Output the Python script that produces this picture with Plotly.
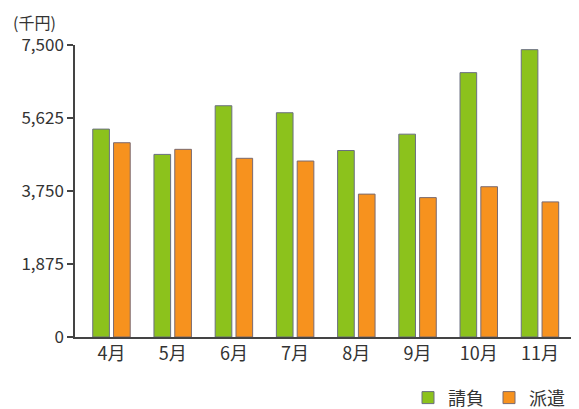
import plotly.graph_objects as go

months = ["4月", "5月", "6月", "7月", "8月", "9月", "10月", "11月"]
ukeoi = [5340, 4690, 5940, 5760, 4790, 5210, 6790, 7380]   # 請負
haken = [4990, 4820, 4590, 4520, 3670, 3580, 3860, 3470]   # 派遣
y_ticks = [0, 1875, 3750, 5625, 7500]
y_ticklabels = ["0", "1,875", "3,750", "5,625", "7,500"]

FONT = "Noto Sans CJK JP"
TXT = "#333333"
OFF = 8  # default page margin of the browser
W, H = 579 - OFF, 409 - OFF
L, T = 75 - OFF, 44.5 - OFF
R = W - (574 - OFF)
B = H - (337 - OFF)
PW, PH = W - L - R, H - T - B

fig = go.Figure()
fig.add_trace(go.Bar(
    x=months, y=ukeoi, name="請負",
    marker=dict(color="#8CC21C", line=dict(color="#6a6f80", width=1)),
))
fig.add_trace(go.Bar(
    x=months, y=haken, name="派遣",
    marker=dict(color="#F7921E", line=dict(color="#7a6a70", width=1)),
))

fig.update_layout(
    width=W, height=H,
    margin=dict(l=L, r=R, t=T, b=B, pad=0, autoexpand=False),
    paper_bgcolor="white", plot_bgcolor="white",
    barmode="group", bargap=0.32, bargroupgap=0.2,
    font=dict(family=FONT, color=TXT, size=16),
    showlegend=True,
    legend=dict(
        orientation="h", x=(570 - 75) / PW, xanchor="right",
        y=-(398 - 337) / PH, yanchor="middle",
        font=dict(size=18, family=FONT, color=TXT),
        itemwidth=30, traceorder="normal",
        bgcolor="rgba(0,0,0,0)", borderwidth=0,
    ),
    xaxis=dict(
        range=[-0.596, 7.556],
        showline=True, linecolor="#444444", linewidth=1.5,
        ticks="", showgrid=False,
        tickfont=dict(size=18, family=FONT, color=TXT),
        fixedrange=True,
    ),
    yaxis=dict(
        range=[0, 7500],
        tickvals=y_ticks, ticktext=y_ticklabels,
        showline=True, linecolor="#444444", linewidth=1.5,
        ticks="outside", ticklen=6, tickcolor="#444444", tickwidth=1.5,
        showgrid=False, zeroline=False,
        tickfont=dict(size=17, family=FONT, color=TXT),
        fixedrange=True,
    ),
    annotations=[dict(
        text="(千円)", xref="paper", yref="paper",
        x=-(75 - 12) / PW, xanchor="left",
        y=1 + T / PH, yanchor="top", borderpad=0,
        showarrow=False, font=dict(size=16, family=FONT, color=TXT),
    )],
)

fig.write_html("out.html")
